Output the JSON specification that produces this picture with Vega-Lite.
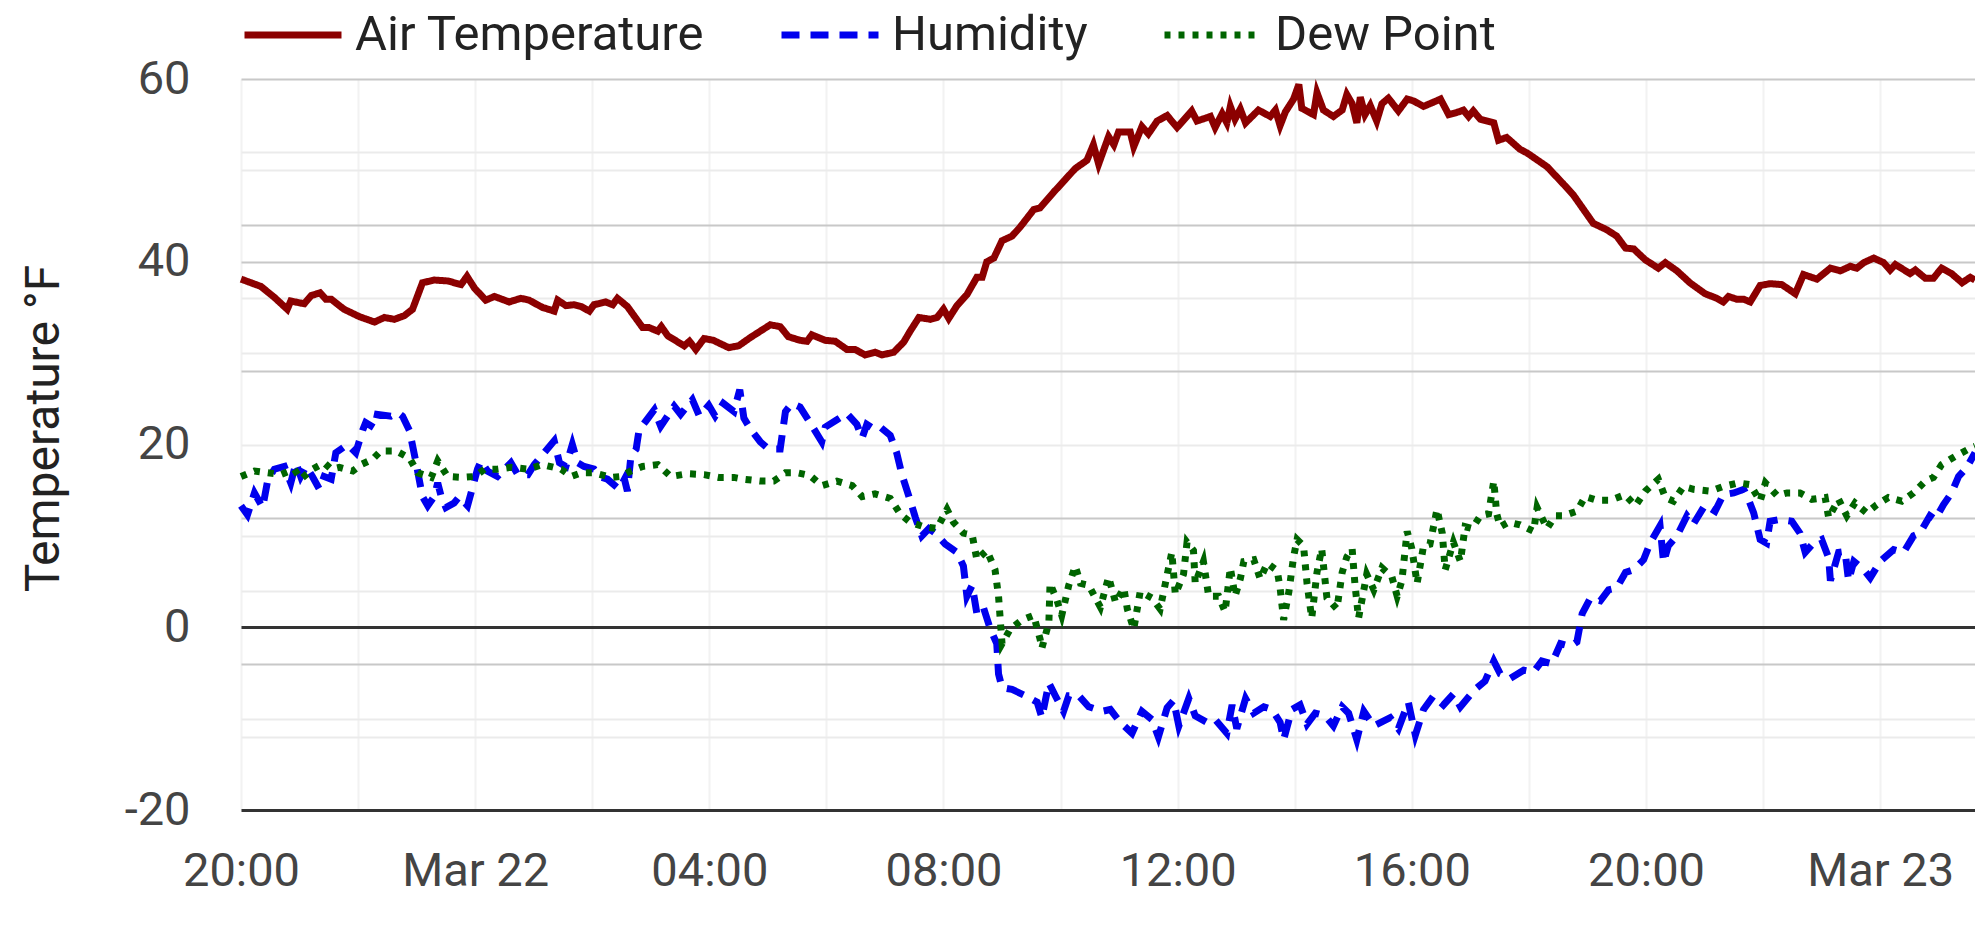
{
  "$schema": "https://vega.github.io/schema/vega-lite/v6.json",
  "width": 1734,
  "height": 731,
  "autosize": {"type": "none"},
  "padding": {"left": 241, "top": 79, "right": 0, "bottom": 126},
  "background": "white",
  "config": {
    "view": {"stroke": null},
    "font": "Roboto"
  },
  "data": {
    "values": [
      {"elapsed": 0, "series": "Air Temperature", "value": 38.1},
      {"elapsed": 0.34, "series": "Air Temperature", "value": 37.3},
      {"elapsed": 0.57, "series": "Air Temperature", "value": 36.1},
      {"elapsed": 0.79, "series": "Air Temperature", "value": 34.8},
      {"elapsed": 0.85, "series": "Air Temperature", "value": 35.7},
      {"elapsed": 1.08, "series": "Air Temperature", "value": 35.4},
      {"elapsed": 1.2, "series": "Air Temperature", "value": 36.3},
      {"elapsed": 1.35, "series": "Air Temperature", "value": 36.6},
      {"elapsed": 1.45, "series": "Air Temperature", "value": 35.9},
      {"elapsed": 1.54, "series": "Air Temperature", "value": 35.9},
      {"elapsed": 1.76, "series": "Air Temperature", "value": 34.8},
      {"elapsed": 2.02, "series": "Air Temperature", "value": 34.0},
      {"elapsed": 2.28, "series": "Air Temperature", "value": 33.4},
      {"elapsed": 2.45, "series": "Air Temperature", "value": 33.9},
      {"elapsed": 2.62, "series": "Air Temperature", "value": 33.7},
      {"elapsed": 2.79, "series": "Air Temperature", "value": 34.1},
      {"elapsed": 2.93, "series": "Air Temperature", "value": 34.8},
      {"elapsed": 3.1, "series": "Air Temperature", "value": 37.7},
      {"elapsed": 3.3, "series": "Air Temperature", "value": 38.0},
      {"elapsed": 3.53, "series": "Air Temperature", "value": 37.9},
      {"elapsed": 3.76, "series": "Air Temperature", "value": 37.5},
      {"elapsed": 3.86, "series": "Air Temperature", "value": 38.4},
      {"elapsed": 3.99, "series": "Air Temperature", "value": 37.1},
      {"elapsed": 4.18, "series": "Air Temperature", "value": 35.8},
      {"elapsed": 4.33, "series": "Air Temperature", "value": 36.2},
      {"elapsed": 4.58, "series": "Air Temperature", "value": 35.6},
      {"elapsed": 4.78, "series": "Air Temperature", "value": 36.0},
      {"elapsed": 4.92, "series": "Air Temperature", "value": 35.8},
      {"elapsed": 5.15, "series": "Air Temperature", "value": 35.0},
      {"elapsed": 5.35, "series": "Air Temperature", "value": 34.6},
      {"elapsed": 5.41, "series": "Air Temperature", "value": 35.8},
      {"elapsed": 5.55, "series": "Air Temperature", "value": 35.2},
      {"elapsed": 5.69, "series": "Air Temperature", "value": 35.3},
      {"elapsed": 5.81, "series": "Air Temperature", "value": 35.1},
      {"elapsed": 5.95, "series": "Air Temperature", "value": 34.6},
      {"elapsed": 6.03, "series": "Air Temperature", "value": 35.3},
      {"elapsed": 6.23, "series": "Air Temperature", "value": 35.6},
      {"elapsed": 6.35, "series": "Air Temperature", "value": 35.3},
      {"elapsed": 6.43, "series": "Air Temperature", "value": 36.0},
      {"elapsed": 6.6, "series": "Air Temperature", "value": 35.1},
      {"elapsed": 6.86, "series": "Air Temperature", "value": 32.8},
      {"elapsed": 6.97, "series": "Air Temperature", "value": 32.8},
      {"elapsed": 7.12, "series": "Air Temperature", "value": 32.4},
      {"elapsed": 7.18, "series": "Air Temperature", "value": 32.9},
      {"elapsed": 7.29, "series": "Air Temperature", "value": 31.9},
      {"elapsed": 7.57, "series": "Air Temperature", "value": 30.8},
      {"elapsed": 7.66, "series": "Air Temperature", "value": 31.3},
      {"elapsed": 7.77, "series": "Air Temperature", "value": 30.4},
      {"elapsed": 7.91, "series": "Air Temperature", "value": 31.6},
      {"elapsed": 8.07, "series": "Air Temperature", "value": 31.4},
      {"elapsed": 8.33, "series": "Air Temperature", "value": 30.6},
      {"elapsed": 8.5, "series": "Air Temperature", "value": 30.8},
      {"elapsed": 8.7, "series": "Air Temperature", "value": 31.7},
      {"elapsed": 9.04, "series": "Air Temperature", "value": 33.1},
      {"elapsed": 9.21, "series": "Air Temperature", "value": 32.9},
      {"elapsed": 9.35, "series": "Air Temperature", "value": 31.8},
      {"elapsed": 9.55, "series": "Air Temperature", "value": 31.4},
      {"elapsed": 9.67, "series": "Air Temperature", "value": 31.3},
      {"elapsed": 9.75, "series": "Air Temperature", "value": 32.0},
      {"elapsed": 9.98, "series": "Air Temperature", "value": 31.4},
      {"elapsed": 10.15, "series": "Air Temperature", "value": 31.3},
      {"elapsed": 10.35, "series": "Air Temperature", "value": 30.4},
      {"elapsed": 10.49, "series": "Air Temperature", "value": 30.4},
      {"elapsed": 10.66, "series": "Air Temperature", "value": 29.8},
      {"elapsed": 10.83, "series": "Air Temperature", "value": 30.1},
      {"elapsed": 10.95, "series": "Air Temperature", "value": 29.8},
      {"elapsed": 11.15, "series": "Air Temperature", "value": 30.1},
      {"elapsed": 11.32, "series": "Air Temperature", "value": 31.2},
      {"elapsed": 11.43, "series": "Air Temperature", "value": 32.4},
      {"elapsed": 11.58, "series": "Air Temperature", "value": 33.9},
      {"elapsed": 11.78, "series": "Air Temperature", "value": 33.7},
      {"elapsed": 11.89, "series": "Air Temperature", "value": 33.9},
      {"elapsed": 12.0, "series": "Air Temperature", "value": 34.8},
      {"elapsed": 12.09, "series": "Air Temperature", "value": 33.8},
      {"elapsed": 12.23, "series": "Air Temperature", "value": 35.2},
      {"elapsed": 12.4, "series": "Air Temperature", "value": 36.4},
      {"elapsed": 12.57, "series": "Air Temperature", "value": 38.3},
      {"elapsed": 12.66, "series": "Air Temperature", "value": 38.3},
      {"elapsed": 12.74, "series": "Air Temperature", "value": 40.0},
      {"elapsed": 12.86, "series": "Air Temperature", "value": 40.4},
      {"elapsed": 13.0, "series": "Air Temperature", "value": 42.3},
      {"elapsed": 13.17, "series": "Air Temperature", "value": 42.8},
      {"elapsed": 13.31, "series": "Air Temperature", "value": 43.8},
      {"elapsed": 13.54, "series": "Air Temperature", "value": 45.7},
      {"elapsed": 13.65, "series": "Air Temperature", "value": 45.9},
      {"elapsed": 13.88, "series": "Air Temperature", "value": 47.6},
      {"elapsed": 14.08, "series": "Air Temperature", "value": 49.0},
      {"elapsed": 14.25, "series": "Air Temperature", "value": 50.2},
      {"elapsed": 14.45, "series": "Air Temperature", "value": 51.1},
      {"elapsed": 14.56, "series": "Air Temperature", "value": 52.8},
      {"elapsed": 14.65, "series": "Air Temperature", "value": 50.7},
      {"elapsed": 14.82, "series": "Air Temperature", "value": 53.7},
      {"elapsed": 14.91, "series": "Air Temperature", "value": 52.8},
      {"elapsed": 14.99, "series": "Air Temperature", "value": 54.2},
      {"elapsed": 15.19, "series": "Air Temperature", "value": 54.2},
      {"elapsed": 15.25, "series": "Air Temperature", "value": 52.6},
      {"elapsed": 15.39, "series": "Air Temperature", "value": 54.8},
      {"elapsed": 15.5, "series": "Air Temperature", "value": 54.0},
      {"elapsed": 15.65, "series": "Air Temperature", "value": 55.4},
      {"elapsed": 15.82, "series": "Air Temperature", "value": 56.0},
      {"elapsed": 15.99, "series": "Air Temperature", "value": 54.7},
      {"elapsed": 16.24, "series": "Air Temperature", "value": 56.5},
      {"elapsed": 16.33, "series": "Air Temperature", "value": 55.4},
      {"elapsed": 16.56, "series": "Air Temperature", "value": 55.9},
      {"elapsed": 16.64, "series": "Air Temperature", "value": 54.7},
      {"elapsed": 16.76, "series": "Air Temperature", "value": 56.2},
      {"elapsed": 16.84, "series": "Air Temperature", "value": 55.2},
      {"elapsed": 16.9, "series": "Air Temperature", "value": 57.0},
      {"elapsed": 16.98, "series": "Air Temperature", "value": 55.6},
      {"elapsed": 17.07, "series": "Air Temperature", "value": 56.7},
      {"elapsed": 17.16, "series": "Air Temperature", "value": 55.2},
      {"elapsed": 17.38, "series": "Air Temperature", "value": 56.6},
      {"elapsed": 17.58, "series": "Air Temperature", "value": 55.9},
      {"elapsed": 17.67, "series": "Air Temperature", "value": 56.6},
      {"elapsed": 17.75, "series": "Air Temperature", "value": 54.9},
      {"elapsed": 17.84, "series": "Air Temperature", "value": 56.4},
      {"elapsed": 17.98, "series": "Air Temperature", "value": 57.8},
      {"elapsed": 18.07, "series": "Air Temperature", "value": 59.4},
      {"elapsed": 18.12, "series": "Air Temperature", "value": 56.8},
      {"elapsed": 18.32, "series": "Air Temperature", "value": 56.1},
      {"elapsed": 18.38, "series": "Air Temperature", "value": 58.5},
      {"elapsed": 18.49, "series": "Air Temperature", "value": 56.6},
      {"elapsed": 18.66, "series": "Air Temperature", "value": 55.9},
      {"elapsed": 18.81, "series": "Air Temperature", "value": 56.6},
      {"elapsed": 18.89, "series": "Air Temperature", "value": 58.3},
      {"elapsed": 18.98, "series": "Air Temperature", "value": 57.3},
      {"elapsed": 19.06, "series": "Air Temperature", "value": 55.2},
      {"elapsed": 19.12, "series": "Air Temperature", "value": 58.0},
      {"elapsed": 19.2, "series": "Air Temperature", "value": 56.1},
      {"elapsed": 19.29, "series": "Air Temperature", "value": 57.1},
      {"elapsed": 19.4, "series": "Air Temperature", "value": 55.4},
      {"elapsed": 19.49, "series": "Air Temperature", "value": 57.3},
      {"elapsed": 19.6, "series": "Air Temperature", "value": 57.9},
      {"elapsed": 19.77, "series": "Air Temperature", "value": 56.5},
      {"elapsed": 19.92, "series": "Air Temperature", "value": 57.8},
      {"elapsed": 20.03, "series": "Air Temperature", "value": 57.6},
      {"elapsed": 20.2, "series": "Air Temperature", "value": 57.0},
      {"elapsed": 20.49, "series": "Air Temperature", "value": 57.8},
      {"elapsed": 20.63, "series": "Air Temperature", "value": 56.1},
      {"elapsed": 20.8, "series": "Air Temperature", "value": 56.4},
      {"elapsed": 20.88, "series": "Air Temperature", "value": 56.6},
      {"elapsed": 20.97, "series": "Air Temperature", "value": 55.9},
      {"elapsed": 21.05, "series": "Air Temperature", "value": 56.5},
      {"elapsed": 21.17, "series": "Air Temperature", "value": 55.6},
      {"elapsed": 21.4, "series": "Air Temperature", "value": 55.2},
      {"elapsed": 21.48, "series": "Air Temperature", "value": 53.3},
      {"elapsed": 21.62, "series": "Air Temperature", "value": 53.6},
      {"elapsed": 21.85, "series": "Air Temperature", "value": 52.3},
      {"elapsed": 21.97, "series": "Air Temperature", "value": 51.9},
      {"elapsed": 22.31, "series": "Air Temperature", "value": 50.4},
      {"elapsed": 22.59, "series": "Air Temperature", "value": 48.5},
      {"elapsed": 22.76, "series": "Air Temperature", "value": 47.3},
      {"elapsed": 22.99, "series": "Air Temperature", "value": 45.2},
      {"elapsed": 23.1, "series": "Air Temperature", "value": 44.2},
      {"elapsed": 23.33, "series": "Air Temperature", "value": 43.5},
      {"elapsed": 23.5, "series": "Air Temperature", "value": 42.8},
      {"elapsed": 23.65, "series": "Air Temperature", "value": 41.5},
      {"elapsed": 23.79, "series": "Air Temperature", "value": 41.4},
      {"elapsed": 23.99, "series": "Air Temperature", "value": 40.2},
      {"elapsed": 24.21, "series": "Air Temperature", "value": 39.3},
      {"elapsed": 24.33, "series": "Air Temperature", "value": 39.9},
      {"elapsed": 24.53, "series": "Air Temperature", "value": 39.0},
      {"elapsed": 24.75, "series": "Air Temperature", "value": 37.7},
      {"elapsed": 25.01, "series": "Air Temperature", "value": 36.5},
      {"elapsed": 25.21, "series": "Air Temperature", "value": 36.0},
      {"elapsed": 25.32, "series": "Air Temperature", "value": 35.6},
      {"elapsed": 25.41, "series": "Air Temperature", "value": 36.2},
      {"elapsed": 25.55, "series": "Air Temperature", "value": 35.9},
      {"elapsed": 25.67, "series": "Air Temperature", "value": 35.9},
      {"elapsed": 25.78, "series": "Air Temperature", "value": 35.6},
      {"elapsed": 25.95, "series": "Air Temperature", "value": 37.4},
      {"elapsed": 26.12, "series": "Air Temperature", "value": 37.6},
      {"elapsed": 26.32, "series": "Air Temperature", "value": 37.5},
      {"elapsed": 26.55, "series": "Air Temperature", "value": 36.5},
      {"elapsed": 26.69, "series": "Air Temperature", "value": 38.6},
      {"elapsed": 26.92, "series": "Air Temperature", "value": 38.1},
      {"elapsed": 27.15, "series": "Air Temperature", "value": 39.3},
      {"elapsed": 27.32, "series": "Air Temperature", "value": 39.0},
      {"elapsed": 27.49, "series": "Air Temperature", "value": 39.5},
      {"elapsed": 27.6, "series": "Air Temperature", "value": 39.3},
      {"elapsed": 27.72, "series": "Air Temperature", "value": 39.9},
      {"elapsed": 27.89, "series": "Air Temperature", "value": 40.4},
      {"elapsed": 28.06, "series": "Air Temperature", "value": 39.9},
      {"elapsed": 28.17, "series": "Air Temperature", "value": 39.1},
      {"elapsed": 28.26, "series": "Air Temperature", "value": 39.7},
      {"elapsed": 28.51, "series": "Air Temperature", "value": 38.7},
      {"elapsed": 28.6, "series": "Air Temperature", "value": 39.1},
      {"elapsed": 28.77, "series": "Air Temperature", "value": 38.2},
      {"elapsed": 28.91, "series": "Air Temperature", "value": 38.2},
      {"elapsed": 29.05, "series": "Air Temperature", "value": 39.3},
      {"elapsed": 29.22, "series": "Air Temperature", "value": 38.7},
      {"elapsed": 29.4, "series": "Air Temperature", "value": 37.7},
      {"elapsed": 29.54, "series": "Air Temperature", "value": 38.3},
      {"elapsed": 29.62, "series": "Air Temperature", "value": 38.0},

      {"elapsed": 0, "series": "Humidity", "value": 13.3},
      {"elapsed": 0.11, "series": "Humidity", "value": 12.3},
      {"elapsed": 0.23, "series": "Humidity", "value": 14.7},
      {"elapsed": 0.37, "series": "Humidity", "value": 13.1},
      {"elapsed": 0.46, "series": "Humidity", "value": 16.2},
      {"elapsed": 0.57, "series": "Humidity", "value": 17.3},
      {"elapsed": 0.74, "series": "Humidity", "value": 17.6},
      {"elapsed": 0.85, "series": "Humidity", "value": 15.8},
      {"elapsed": 0.94, "series": "Humidity", "value": 18.0},
      {"elapsed": 1.02, "series": "Humidity", "value": 16.5},
      {"elapsed": 1.11, "series": "Humidity", "value": 17.6},
      {"elapsed": 1.22, "series": "Humidity", "value": 16.5},
      {"elapsed": 1.34, "series": "Humidity", "value": 15.1},
      {"elapsed": 1.42, "series": "Humidity", "value": 16.5},
      {"elapsed": 1.54, "series": "Humidity", "value": 16.2},
      {"elapsed": 1.62, "series": "Humidity", "value": 19.1},
      {"elapsed": 1.82, "series": "Humidity", "value": 20.0},
      {"elapsed": 1.96, "series": "Humidity", "value": 19.1},
      {"elapsed": 2.08, "series": "Humidity", "value": 21.6},
      {"elapsed": 2.13, "series": "Humidity", "value": 22.4},
      {"elapsed": 2.28, "series": "Humidity", "value": 21.8},
      {"elapsed": 2.33, "series": "Humidity", "value": 23.3},
      {"elapsed": 2.56, "series": "Humidity", "value": 23.1},
      {"elapsed": 2.68, "series": "Humidity", "value": 23.5},
      {"elapsed": 2.76, "series": "Humidity", "value": 23.1},
      {"elapsed": 2.88, "series": "Humidity", "value": 21.5},
      {"elapsed": 2.99, "series": "Humidity", "value": 18.0},
      {"elapsed": 3.1, "series": "Humidity", "value": 14.3},
      {"elapsed": 3.19, "series": "Humidity", "value": 13.3},
      {"elapsed": 3.3, "series": "Humidity", "value": 14.3},
      {"elapsed": 3.36, "series": "Humidity", "value": 15.8},
      {"elapsed": 3.42, "series": "Humidity", "value": 14.3},
      {"elapsed": 3.5, "series": "Humidity", "value": 13.1},
      {"elapsed": 3.64, "series": "Humidity", "value": 13.6},
      {"elapsed": 3.73, "series": "Humidity", "value": 14.3},
      {"elapsed": 3.87, "series": "Humidity", "value": 13.3},
      {"elapsed": 3.93, "series": "Humidity", "value": 14.7},
      {"elapsed": 4.04, "series": "Humidity", "value": 17.3},
      {"elapsed": 4.1, "series": "Humidity", "value": 18.2},
      {"elapsed": 4.21, "series": "Humidity", "value": 17.1},
      {"elapsed": 4.38, "series": "Humidity", "value": 16.5},
      {"elapsed": 4.5, "series": "Humidity", "value": 17.3},
      {"elapsed": 4.61, "series": "Humidity", "value": 18.0},
      {"elapsed": 4.73, "series": "Humidity", "value": 16.7},
      {"elapsed": 4.9, "series": "Humidity", "value": 16.7},
      {"elapsed": 5.01, "series": "Humidity", "value": 17.8},
      {"elapsed": 5.18, "series": "Humidity", "value": 19.1},
      {"elapsed": 5.35, "series": "Humidity", "value": 20.4},
      {"elapsed": 5.44, "series": "Humidity", "value": 18.0},
      {"elapsed": 5.55, "series": "Humidity", "value": 17.6},
      {"elapsed": 5.66, "series": "Humidity", "value": 20.0},
      {"elapsed": 5.75, "series": "Humidity", "value": 18.0},
      {"elapsed": 5.86, "series": "Humidity", "value": 17.6},
      {"elapsed": 6.03, "series": "Humidity", "value": 17.3},
      {"elapsed": 6.12, "series": "Humidity", "value": 16.5},
      {"elapsed": 6.26, "series": "Humidity", "value": 16.2},
      {"elapsed": 6.46, "series": "Humidity", "value": 15.1},
      {"elapsed": 6.55, "series": "Humidity", "value": 16.2},
      {"elapsed": 6.6, "series": "Humidity", "value": 14.9},
      {"elapsed": 6.66, "series": "Humidity", "value": 18.7},
      {"elapsed": 6.75, "series": "Humidity", "value": 19.5},
      {"elapsed": 6.8, "series": "Humidity", "value": 21.6},
      {"elapsed": 6.92, "series": "Humidity", "value": 22.6},
      {"elapsed": 7.06, "series": "Humidity", "value": 23.8},
      {"elapsed": 7.17, "series": "Humidity", "value": 22.0},
      {"elapsed": 7.4, "series": "Humidity", "value": 24.2},
      {"elapsed": 7.51, "series": "Humidity", "value": 23.3},
      {"elapsed": 7.71, "series": "Humidity", "value": 24.9},
      {"elapsed": 7.83, "series": "Humidity", "value": 23.1},
      {"elapsed": 7.99, "series": "Humidity", "value": 24.3},
      {"elapsed": 8.1, "series": "Humidity", "value": 23.1},
      {"elapsed": 8.24, "series": "Humidity", "value": 24.5},
      {"elapsed": 8.42, "series": "Humidity", "value": 23.6},
      {"elapsed": 8.52, "series": "Humidity", "value": 26.0},
      {"elapsed": 8.59, "series": "Humidity", "value": 22.9},
      {"elapsed": 8.7, "series": "Humidity", "value": 21.7},
      {"elapsed": 8.87, "series": "Humidity", "value": 20.3},
      {"elapsed": 9.01, "series": "Humidity", "value": 19.5},
      {"elapsed": 9.21, "series": "Humidity", "value": 19.5},
      {"elapsed": 9.3, "series": "Humidity", "value": 23.6},
      {"elapsed": 9.41, "series": "Humidity", "value": 24.5},
      {"elapsed": 9.55, "series": "Humidity", "value": 24.1},
      {"elapsed": 9.72, "series": "Humidity", "value": 22.4},
      {"elapsed": 9.92, "series": "Humidity", "value": 20.3},
      {"elapsed": 9.98, "series": "Humidity", "value": 21.9},
      {"elapsed": 10.18, "series": "Humidity", "value": 22.7},
      {"elapsed": 10.35, "series": "Humidity", "value": 23.4},
      {"elapsed": 10.52, "series": "Humidity", "value": 22.2},
      {"elapsed": 10.61, "series": "Humidity", "value": 20.7},
      {"elapsed": 10.69, "series": "Humidity", "value": 22.2},
      {"elapsed": 10.81, "series": "Humidity", "value": 21.7},
      {"elapsed": 10.92, "series": "Humidity", "value": 21.9},
      {"elapsed": 11.09, "series": "Humidity", "value": 21.0},
      {"elapsed": 11.2, "series": "Humidity", "value": 19.1},
      {"elapsed": 11.29, "series": "Humidity", "value": 16.7},
      {"elapsed": 11.41, "series": "Humidity", "value": 14.3},
      {"elapsed": 11.52, "series": "Humidity", "value": 12.0},
      {"elapsed": 11.63, "series": "Humidity", "value": 10.0},
      {"elapsed": 11.75, "series": "Humidity", "value": 10.8},
      {"elapsed": 11.86, "series": "Humidity", "value": 10.3},
      {"elapsed": 12.03, "series": "Humidity", "value": 9.1},
      {"elapsed": 12.14, "series": "Humidity", "value": 8.6},
      {"elapsed": 12.23, "series": "Humidity", "value": 8.2},
      {"elapsed": 12.34, "series": "Humidity", "value": 6.7},
      {"elapsed": 12.4, "series": "Humidity", "value": 3.4},
      {"elapsed": 12.49, "series": "Humidity", "value": 4.6},
      {"elapsed": 12.57, "series": "Humidity", "value": 1.5},
      {"elapsed": 12.68, "series": "Humidity", "value": 2.2},
      {"elapsed": 12.8, "series": "Humidity", "value": -0.2},
      {"elapsed": 12.91, "series": "Humidity", "value": -1.8},
      {"elapsed": 12.94, "series": "Humidity", "value": -5.1},
      {"elapsed": 13.0, "series": "Humidity", "value": -6.6},
      {"elapsed": 13.17, "series": "Humidity", "value": -6.8},
      {"elapsed": 13.4, "series": "Humidity", "value": -7.5},
      {"elapsed": 13.6, "series": "Humidity", "value": -8.2},
      {"elapsed": 13.68, "series": "Humidity", "value": -9.9},
      {"elapsed": 13.8, "series": "Humidity", "value": -6.1},
      {"elapsed": 13.91, "series": "Humidity", "value": -7.5},
      {"elapsed": 14.05, "series": "Humidity", "value": -9.2},
      {"elapsed": 14.14, "series": "Humidity", "value": -7.5},
      {"elapsed": 14.31, "series": "Humidity", "value": -7.5},
      {"elapsed": 14.48, "series": "Humidity", "value": -8.7},
      {"elapsed": 14.71, "series": "Humidity", "value": -9.2},
      {"elapsed": 14.85, "series": "Humidity", "value": -9.0},
      {"elapsed": 15.02, "series": "Humidity", "value": -10.4},
      {"elapsed": 15.22, "series": "Humidity", "value": -11.6},
      {"elapsed": 15.39, "series": "Humidity", "value": -9.2},
      {"elapsed": 15.56, "series": "Humidity", "value": -10.1},
      {"elapsed": 15.67, "series": "Humidity", "value": -12.0},
      {"elapsed": 15.82, "series": "Humidity", "value": -8.8},
      {"elapsed": 15.93, "series": "Humidity", "value": -8.0},
      {"elapsed": 16.02, "series": "Humidity", "value": -10.8},
      {"elapsed": 16.19, "series": "Humidity", "value": -7.8},
      {"elapsed": 16.3, "series": "Humidity", "value": -9.7},
      {"elapsed": 16.5, "series": "Humidity", "value": -10.4},
      {"elapsed": 16.64, "series": "Humidity", "value": -10.1},
      {"elapsed": 16.84, "series": "Humidity", "value": -11.6},
      {"elapsed": 16.93, "series": "Humidity", "value": -8.5},
      {"elapsed": 17.01, "series": "Humidity", "value": -11.1},
      {"elapsed": 17.16, "series": "Humidity", "value": -7.8},
      {"elapsed": 17.3, "series": "Humidity", "value": -9.4},
      {"elapsed": 17.47, "series": "Humidity", "value": -8.7},
      {"elapsed": 17.61, "series": "Humidity", "value": -9.0},
      {"elapsed": 17.75, "series": "Humidity", "value": -10.4},
      {"elapsed": 17.81, "series": "Humidity", "value": -12.3},
      {"elapsed": 17.95, "series": "Humidity", "value": -9.0},
      {"elapsed": 18.09, "series": "Humidity", "value": -8.5},
      {"elapsed": 18.21, "series": "Humidity", "value": -10.6},
      {"elapsed": 18.35, "series": "Humidity", "value": -9.4},
      {"elapsed": 18.52, "series": "Humidity", "value": -9.7},
      {"elapsed": 18.66, "series": "Humidity", "value": -10.8},
      {"elapsed": 18.81, "series": "Humidity", "value": -8.7},
      {"elapsed": 18.92, "series": "Humidity", "value": -9.4},
      {"elapsed": 19.06, "series": "Humidity", "value": -12.3},
      {"elapsed": 19.18, "series": "Humidity", "value": -9.2},
      {"elapsed": 19.35, "series": "Humidity", "value": -10.8},
      {"elapsed": 19.63, "series": "Humidity", "value": -9.9},
      {"elapsed": 19.77, "series": "Humidity", "value": -11.1},
      {"elapsed": 19.94, "series": "Humidity", "value": -8.2},
      {"elapsed": 20.06, "series": "Humidity", "value": -11.8},
      {"elapsed": 20.2, "series": "Humidity", "value": -9.0},
      {"elapsed": 20.37, "series": "Humidity", "value": -7.5},
      {"elapsed": 20.54, "series": "Humidity", "value": -8.5},
      {"elapsed": 20.71, "series": "Humidity", "value": -7.3},
      {"elapsed": 20.83, "series": "Humidity", "value": -8.7},
      {"elapsed": 21.08, "series": "Humidity", "value": -6.8},
      {"elapsed": 21.25, "series": "Humidity", "value": -5.9},
      {"elapsed": 21.4, "series": "Humidity", "value": -3.7},
      {"elapsed": 21.51, "series": "Humidity", "value": -5.1},
      {"elapsed": 21.68, "series": "Humidity", "value": -5.6},
      {"elapsed": 21.91, "series": "Humidity", "value": -4.7},
      {"elapsed": 22.08, "series": "Humidity", "value": -4.9},
      {"elapsed": 22.22, "series": "Humidity", "value": -3.7},
      {"elapsed": 22.39, "series": "Humidity", "value": -4.0},
      {"elapsed": 22.54, "series": "Humidity", "value": -1.8},
      {"elapsed": 22.71, "series": "Humidity", "value": -2.1},
      {"elapsed": 22.82, "series": "Humidity", "value": -1.6},
      {"elapsed": 22.91, "series": "Humidity", "value": 1.5},
      {"elapsed": 23.05, "series": "Humidity", "value": 3.2},
      {"elapsed": 23.22, "series": "Humidity", "value": 2.9},
      {"elapsed": 23.36, "series": "Humidity", "value": 4.1},
      {"elapsed": 23.5, "series": "Humidity", "value": 4.3},
      {"elapsed": 23.65, "series": "Humidity", "value": 6.0},
      {"elapsed": 23.79, "series": "Humidity", "value": 6.3},
      {"elapsed": 23.96, "series": "Humidity", "value": 7.4},
      {"elapsed": 24.07, "series": "Humidity", "value": 9.2},
      {"elapsed": 24.24, "series": "Humidity", "value": 11.1},
      {"elapsed": 24.3, "series": "Humidity", "value": 7.1},
      {"elapsed": 24.38, "series": "Humidity", "value": 8.9},
      {"elapsed": 24.53, "series": "Humidity", "value": 10.0},
      {"elapsed": 24.7, "series": "Humidity", "value": 12.2},
      {"elapsed": 24.81, "series": "Humidity", "value": 11.3},
      {"elapsed": 25.01, "series": "Humidity", "value": 13.4},
      {"elapsed": 25.18, "series": "Humidity", "value": 12.7},
      {"elapsed": 25.32, "series": "Humidity", "value": 14.5},
      {"elapsed": 25.5, "series": "Humidity", "value": 14.7},
      {"elapsed": 25.67, "series": "Humidity", "value": 15.1},
      {"elapsed": 25.75, "series": "Humidity", "value": 14.0},
      {"elapsed": 25.84, "series": "Humidity", "value": 12.5},
      {"elapsed": 25.95, "series": "Humidity", "value": 9.6},
      {"elapsed": 26.06, "series": "Humidity", "value": 9.2},
      {"elapsed": 26.12, "series": "Humidity", "value": 11.6},
      {"elapsed": 26.29, "series": "Humidity", "value": 11.8},
      {"elapsed": 26.49, "series": "Humidity", "value": 11.6},
      {"elapsed": 26.63, "series": "Humidity", "value": 10.3},
      {"elapsed": 26.72, "series": "Humidity", "value": 8.2},
      {"elapsed": 26.86, "series": "Humidity", "value": 9.2},
      {"elapsed": 27.0, "series": "Humidity", "value": 9.6},
      {"elapsed": 27.12, "series": "Humidity", "value": 7.6},
      {"elapsed": 27.15, "series": "Humidity", "value": 5.1},
      {"elapsed": 27.29, "series": "Humidity", "value": 8.2},
      {"elapsed": 27.4, "series": "Humidity", "value": 8.3},
      {"elapsed": 27.46, "series": "Humidity", "value": 5.1},
      {"elapsed": 27.55, "series": "Humidity", "value": 7.2},
      {"elapsed": 27.72, "series": "Humidity", "value": 6.3},
      {"elapsed": 27.83, "series": "Humidity", "value": 5.4},
      {"elapsed": 28.0, "series": "Humidity", "value": 7.2},
      {"elapsed": 28.23, "series": "Humidity", "value": 8.5},
      {"elapsed": 28.4, "series": "Humidity", "value": 8.2},
      {"elapsed": 28.57, "series": "Humidity", "value": 10.0},
      {"elapsed": 28.68, "series": "Humidity", "value": 10.3},
      {"elapsed": 28.85, "series": "Humidity", "value": 12.2},
      {"elapsed": 28.94, "series": "Humidity", "value": 11.8},
      {"elapsed": 29.08, "series": "Humidity", "value": 13.4},
      {"elapsed": 29.22, "series": "Humidity", "value": 14.7},
      {"elapsed": 29.34, "series": "Humidity", "value": 16.5},
      {"elapsed": 29.48, "series": "Humidity", "value": 17.5},
      {"elapsed": 29.62, "series": "Humidity", "value": 19.1},

      {"elapsed": 0, "series": "Dew Point", "value": 16.5},
      {"elapsed": 0.23, "series": "Dew Point", "value": 17.1},
      {"elapsed": 0.46, "series": "Dew Point", "value": 16.9},
      {"elapsed": 0.68, "series": "Dew Point", "value": 16.7},
      {"elapsed": 0.91, "series": "Dew Point", "value": 17.3},
      {"elapsed": 1.02, "series": "Dew Point", "value": 16.2},
      {"elapsed": 1.22, "series": "Dew Point", "value": 17.3},
      {"elapsed": 1.42, "series": "Dew Point", "value": 18.0},
      {"elapsed": 1.54, "series": "Dew Point", "value": 17.3},
      {"elapsed": 1.68, "series": "Dew Point", "value": 17.5},
      {"elapsed": 1.91, "series": "Dew Point", "value": 17.1},
      {"elapsed": 2.05, "series": "Dew Point", "value": 17.8},
      {"elapsed": 2.25, "series": "Dew Point", "value": 18.4},
      {"elapsed": 2.39, "series": "Dew Point", "value": 19.3},
      {"elapsed": 2.65, "series": "Dew Point", "value": 19.3},
      {"elapsed": 2.88, "series": "Dew Point", "value": 18.5},
      {"elapsed": 3.02, "series": "Dew Point", "value": 16.9},
      {"elapsed": 3.25, "series": "Dew Point", "value": 16.4},
      {"elapsed": 3.36, "series": "Dew Point", "value": 18.2},
      {"elapsed": 3.53, "series": "Dew Point", "value": 16.5},
      {"elapsed": 3.79, "series": "Dew Point", "value": 16.4},
      {"elapsed": 3.99, "series": "Dew Point", "value": 16.5},
      {"elapsed": 4.16, "series": "Dew Point", "value": 17.3},
      {"elapsed": 4.38, "series": "Dew Point", "value": 17.3},
      {"elapsed": 4.61, "series": "Dew Point", "value": 17.5},
      {"elapsed": 4.9, "series": "Dew Point", "value": 17.3},
      {"elapsed": 5.15, "series": "Dew Point", "value": 17.8},
      {"elapsed": 5.47, "series": "Dew Point", "value": 17.3},
      {"elapsed": 5.64, "series": "Dew Point", "value": 16.5},
      {"elapsed": 5.81, "series": "Dew Point", "value": 16.9},
      {"elapsed": 6.03, "series": "Dew Point", "value": 16.9},
      {"elapsed": 6.32, "series": "Dew Point", "value": 16.4},
      {"elapsed": 6.49, "series": "Dew Point", "value": 16.5},
      {"elapsed": 6.66, "series": "Dew Point", "value": 17.1},
      {"elapsed": 6.86, "series": "Dew Point", "value": 17.6},
      {"elapsed": 7.12, "series": "Dew Point", "value": 17.8},
      {"elapsed": 7.34, "series": "Dew Point", "value": 16.5},
      {"elapsed": 7.63, "series": "Dew Point", "value": 16.8},
      {"elapsed": 7.91, "series": "Dew Point", "value": 16.7},
      {"elapsed": 8.16, "series": "Dew Point", "value": 16.4},
      {"elapsed": 8.42, "series": "Dew Point", "value": 16.4},
      {"elapsed": 8.59, "series": "Dew Point", "value": 16.2},
      {"elapsed": 8.87, "series": "Dew Point", "value": 16.0},
      {"elapsed": 9.1, "series": "Dew Point", "value": 16.0},
      {"elapsed": 9.3, "series": "Dew Point", "value": 16.9},
      {"elapsed": 9.5, "series": "Dew Point", "value": 16.9},
      {"elapsed": 9.72, "series": "Dew Point", "value": 16.6},
      {"elapsed": 9.92, "series": "Dew Point", "value": 15.5},
      {"elapsed": 10.18, "series": "Dew Point", "value": 16.0},
      {"elapsed": 10.44, "series": "Dew Point", "value": 15.5},
      {"elapsed": 10.61, "series": "Dew Point", "value": 14.3},
      {"elapsed": 10.83, "series": "Dew Point", "value": 14.6},
      {"elapsed": 11.09, "series": "Dew Point", "value": 14.1},
      {"elapsed": 11.26, "series": "Dew Point", "value": 12.4},
      {"elapsed": 11.43, "series": "Dew Point", "value": 11.5},
      {"elapsed": 11.66, "series": "Dew Point", "value": 11.0},
      {"elapsed": 11.89, "series": "Dew Point", "value": 10.8},
      {"elapsed": 12.06, "series": "Dew Point", "value": 12.9},
      {"elapsed": 12.17, "series": "Dew Point", "value": 11.5},
      {"elapsed": 12.34, "series": "Dew Point", "value": 10.3},
      {"elapsed": 12.49, "series": "Dew Point", "value": 10.1},
      {"elapsed": 12.57, "series": "Dew Point", "value": 7.4},
      {"elapsed": 12.74, "series": "Dew Point", "value": 8.4},
      {"elapsed": 12.88, "series": "Dew Point", "value": 6.3},
      {"elapsed": 12.94, "series": "Dew Point", "value": 3.4},
      {"elapsed": 12.97, "series": "Dew Point", "value": 0.8},
      {"elapsed": 13.0, "series": "Dew Point", "value": -1.8},
      {"elapsed": 13.14, "series": "Dew Point", "value": -0.2},
      {"elapsed": 13.34, "series": "Dew Point", "value": 0.8},
      {"elapsed": 13.54, "series": "Dew Point", "value": 1.3},
      {"elapsed": 13.65, "series": "Dew Point", "value": -1.3},
      {"elapsed": 13.68, "series": "Dew Point", "value": -2.3},
      {"elapsed": 13.8, "series": "Dew Point", "value": 0.5},
      {"elapsed": 13.82, "series": "Dew Point", "value": 4.8},
      {"elapsed": 13.94, "series": "Dew Point", "value": 2.9},
      {"elapsed": 14.02, "series": "Dew Point", "value": 1.3},
      {"elapsed": 14.14, "series": "Dew Point", "value": 4.6},
      {"elapsed": 14.25, "series": "Dew Point", "value": 6.7},
      {"elapsed": 14.34, "series": "Dew Point", "value": 4.8},
      {"elapsed": 14.48, "series": "Dew Point", "value": 4.6},
      {"elapsed": 14.68, "series": "Dew Point", "value": 2.2},
      {"elapsed": 14.82, "series": "Dew Point", "value": 5.5},
      {"elapsed": 14.94, "series": "Dew Point", "value": 2.7},
      {"elapsed": 15.08, "series": "Dew Point", "value": 4.3},
      {"elapsed": 15.14, "series": "Dew Point", "value": 2.0},
      {"elapsed": 15.25, "series": "Dew Point", "value": -0.2},
      {"elapsed": 15.36, "series": "Dew Point", "value": 3.9},
      {"elapsed": 15.56, "series": "Dew Point", "value": 3.2},
      {"elapsed": 15.7, "series": "Dew Point", "value": 2.0},
      {"elapsed": 15.79, "series": "Dew Point", "value": 4.8},
      {"elapsed": 15.9, "series": "Dew Point", "value": 8.2},
      {"elapsed": 15.96, "series": "Dew Point", "value": 3.6},
      {"elapsed": 16.1, "series": "Dew Point", "value": 5.8},
      {"elapsed": 16.16, "series": "Dew Point", "value": 9.3},
      {"elapsed": 16.27, "series": "Dew Point", "value": 8.4},
      {"elapsed": 16.3, "series": "Dew Point", "value": 4.8},
      {"elapsed": 16.44, "series": "Dew Point", "value": 7.2},
      {"elapsed": 16.53, "series": "Dew Point", "value": 3.4},
      {"elapsed": 16.7, "series": "Dew Point", "value": 3.4},
      {"elapsed": 16.81, "series": "Dew Point", "value": 1.7},
      {"elapsed": 16.9, "series": "Dew Point", "value": 6.5},
      {"elapsed": 16.98, "series": "Dew Point", "value": 3.4},
      {"elapsed": 17.07, "series": "Dew Point", "value": 5.3},
      {"elapsed": 17.13, "series": "Dew Point", "value": 7.2},
      {"elapsed": 17.3, "series": "Dew Point", "value": 7.4},
      {"elapsed": 17.41, "series": "Dew Point", "value": 5.3},
      {"elapsed": 17.53, "series": "Dew Point", "value": 7.0},
      {"elapsed": 17.7, "series": "Dew Point", "value": 6.2},
      {"elapsed": 17.75, "series": "Dew Point", "value": 4.3},
      {"elapsed": 17.81, "series": "Dew Point", "value": 0.8},
      {"elapsed": 17.9, "series": "Dew Point", "value": 3.9},
      {"elapsed": 17.98, "series": "Dew Point", "value": 7.7},
      {"elapsed": 18.04, "series": "Dew Point", "value": 9.6},
      {"elapsed": 18.15, "series": "Dew Point", "value": 8.9},
      {"elapsed": 18.21, "series": "Dew Point", "value": 4.8},
      {"elapsed": 18.29, "series": "Dew Point", "value": 1.0},
      {"elapsed": 18.38, "series": "Dew Point", "value": 6.0},
      {"elapsed": 18.46, "series": "Dew Point", "value": 8.6},
      {"elapsed": 18.55, "series": "Dew Point", "value": 3.2},
      {"elapsed": 18.72, "series": "Dew Point", "value": 2.0},
      {"elapsed": 18.81, "series": "Dew Point", "value": 6.0},
      {"elapsed": 18.89, "series": "Dew Point", "value": 7.7},
      {"elapsed": 18.98, "series": "Dew Point", "value": 8.6},
      {"elapsed": 19.03, "series": "Dew Point", "value": 4.6},
      {"elapsed": 19.09, "series": "Dew Point", "value": 1.0},
      {"elapsed": 19.23, "series": "Dew Point", "value": 5.8},
      {"elapsed": 19.35, "series": "Dew Point", "value": 4.1},
      {"elapsed": 19.49, "series": "Dew Point", "value": 6.5},
      {"elapsed": 19.66, "series": "Dew Point", "value": 5.5},
      {"elapsed": 19.75, "series": "Dew Point", "value": 3.4},
      {"elapsed": 19.83, "series": "Dew Point", "value": 5.1},
      {"elapsed": 19.92, "series": "Dew Point", "value": 10.5},
      {"elapsed": 20.0, "series": "Dew Point", "value": 8.6},
      {"elapsed": 20.09, "series": "Dew Point", "value": 4.8},
      {"elapsed": 20.2, "series": "Dew Point", "value": 8.9},
      {"elapsed": 20.31, "series": "Dew Point", "value": 9.1},
      {"elapsed": 20.43, "series": "Dew Point", "value": 12.9},
      {"elapsed": 20.52, "series": "Dew Point", "value": 10.3},
      {"elapsed": 20.57, "series": "Dew Point", "value": 6.3},
      {"elapsed": 20.71, "series": "Dew Point", "value": 9.3},
      {"elapsed": 20.83, "series": "Dew Point", "value": 7.2},
      {"elapsed": 20.91, "series": "Dew Point", "value": 11.0},
      {"elapsed": 21.03, "series": "Dew Point", "value": 10.8},
      {"elapsed": 21.17, "series": "Dew Point", "value": 12.2},
      {"elapsed": 21.31, "series": "Dew Point", "value": 12.4},
      {"elapsed": 21.4, "series": "Dew Point", "value": 16.0},
      {"elapsed": 21.45, "series": "Dew Point", "value": 12.4},
      {"elapsed": 21.51, "series": "Dew Point", "value": 11.0},
      {"elapsed": 21.65, "series": "Dew Point", "value": 11.5},
      {"elapsed": 21.85, "series": "Dew Point", "value": 11.2},
      {"elapsed": 22.08, "series": "Dew Point", "value": 10.5},
      {"elapsed": 22.14, "series": "Dew Point", "value": 13.1},
      {"elapsed": 22.31, "series": "Dew Point", "value": 10.8},
      {"elapsed": 22.45, "series": "Dew Point", "value": 12.2},
      {"elapsed": 22.59, "series": "Dew Point", "value": 12.2},
      {"elapsed": 22.82, "series": "Dew Point", "value": 12.7},
      {"elapsed": 22.96, "series": "Dew Point", "value": 14.3},
      {"elapsed": 23.16, "series": "Dew Point", "value": 13.9},
      {"elapsed": 23.39, "series": "Dew Point", "value": 13.9},
      {"elapsed": 23.64, "series": "Dew Point", "value": 14.5},
      {"elapsed": 23.82, "series": "Dew Point", "value": 13.3},
      {"elapsed": 23.99, "series": "Dew Point", "value": 14.9},
      {"elapsed": 24.21, "series": "Dew Point", "value": 16.2},
      {"elapsed": 24.33, "series": "Dew Point", "value": 14.2},
      {"elapsed": 24.47, "series": "Dew Point", "value": 13.8},
      {"elapsed": 24.64, "series": "Dew Point", "value": 15.4},
      {"elapsed": 24.81, "series": "Dew Point", "value": 15.1},
      {"elapsed": 25.1, "series": "Dew Point", "value": 14.9},
      {"elapsed": 25.32, "series": "Dew Point", "value": 15.4},
      {"elapsed": 25.58, "series": "Dew Point", "value": 15.8},
      {"elapsed": 25.78, "series": "Dew Point", "value": 15.6},
      {"elapsed": 25.95, "series": "Dew Point", "value": 13.8},
      {"elapsed": 26.04, "series": "Dew Point", "value": 15.8},
      {"elapsed": 26.24, "series": "Dew Point", "value": 14.4},
      {"elapsed": 26.41, "series": "Dew Point", "value": 14.7},
      {"elapsed": 26.63, "series": "Dew Point", "value": 14.7},
      {"elapsed": 26.83, "series": "Dew Point", "value": 14.0},
      {"elapsed": 27.06, "series": "Dew Point", "value": 14.2},
      {"elapsed": 27.12, "series": "Dew Point", "value": 12.0},
      {"elapsed": 27.29, "series": "Dew Point", "value": 14.0},
      {"elapsed": 27.43, "series": "Dew Point", "value": 12.2},
      {"elapsed": 27.57, "series": "Dew Point", "value": 13.6},
      {"elapsed": 27.77, "series": "Dew Point", "value": 12.5},
      {"elapsed": 27.94, "series": "Dew Point", "value": 13.4},
      {"elapsed": 28.14, "series": "Dew Point", "value": 14.2},
      {"elapsed": 28.37, "series": "Dew Point", "value": 13.8},
      {"elapsed": 28.57, "series": "Dew Point", "value": 14.7},
      {"elapsed": 28.77, "series": "Dew Point", "value": 16.0},
      {"elapsed": 28.91, "series": "Dew Point", "value": 16.4},
      {"elapsed": 29.05, "series": "Dew Point", "value": 17.8},
      {"elapsed": 29.28, "series": "Dew Point", "value": 18.7},
      {"elapsed": 29.54, "series": "Dew Point", "value": 19.6},
      {"elapsed": 29.62, "series": "Dew Point", "value": 19.8}
    ]
  },
  "mark": {"type": "line", "strokeWidth": 7, "strokeCap": "butt"},
  "encoding": {
    "x": {
      "field": "elapsed",
      "type": "quantitative",
      "title": null,
      "scale": {"domain": [0, 29.62], "nice": false, "zero": false},
      "axis": {
        "values": [0, 2, 4, 6, 8, 10, 12, 14, 16, 18, 20, 22, 24, 26, 28],
        "labelExpr": "datum.value == 0 ? '20:00' : datum.value == 4 ? 'Mar 22' : datum.value == 8 ? '04:00' : datum.value == 12 ? '08:00' : datum.value == 16 ? '12:00' : datum.value == 20 ? '16:00' : datum.value == 24 ? '20:00' : datum.value == 28 ? 'Mar 23' : ''",
        "labelFontSize": 47,
        "labelColor": "#444444",
        "labelPadding": 38,
        "labelOverlap": false,
        "labelFlush": false,
        "ticks": false,
        "domain": false,
        "gridColor": "#f2f2f2",
        "gridWidth": 2
      }
    },
    "y": {
      "field": "value",
      "type": "quantitative",
      "title": "Temperature °F",
      "scale": {"domain": [-20, 60], "nice": false, "zero": false},
      "axis": {
        "values": [60, 52, 50, 44, 40, 36, 30, 28, 20, 12, 10, 4, 0, -4, -10, -12, -20],
        "labelExpr": "datum.value % 20 == 0 ? '' + datum.value : ''",
        "labelFontSize": 47,
        "labelColor": "#444444",
        "labelPadding": 51,
        "labelOverlap": false,
        "ticks": false,
        "domain": false,
        "gridColor": {
          "condition": [
            {"test": "datum.value == 0 || datum.value == -20", "value": "#333333"},
            {"test": "datum.value == 60 || datum.value == 44 || datum.value == 40 || datum.value == 28 || datum.value == 12 || datum.value == -4", "value": "#c8c8c8"}
          ],
          "value": "#ebebeb"
        },
        "gridWidth": {
          "condition": {"test": "datum.value == 0 || datum.value == -20", "value": 3},
          "value": 2
        },
        "titleFontSize": 48,
        "titleFontWeight": "normal",
        "titleColor": "#222222",
        "titleAngle": 270,
        "titleAlign": "center",
        "titleBaseline": "middle",
        "titleX": -197,
        "titleY": 349
      }
    },
    "color": {
      "field": "series",
      "type": "nominal",
      "title": null,
      "scale": {
        "domain": ["Air Temperature", "Humidity", "Dew Point"],
        "range": ["#8b0000", "#0000ee", "#006400"]
      },
      "legend": {
        "orient": "none",
        "legendX": 0,
        "legendY": -96,
        "direction": "horizontal",
        "symbolType": "stroke",
        "symbolSize": 9409,
        "symbolStrokeWidth": 7,
        "labelFontSize": 49,
        "labelColor": "#222222",
        "labelLimit": 1000,
        "labelOffset": 10,
        "columnPadding": 62,
        "padding": 0
      }
    },
    "strokeDash": {
      "field": "series",
      "type": "nominal",
      "title": null,
      "scale": {
        "domain": ["Air Temperature", "Humidity", "Dew Point"],
        "range": [[1, 0], [18, 11], [6, 8]]
      },
      "legend": {
        "orient": "none",
        "legendX": 0,
        "legendY": -96,
        "direction": "horizontal",
        "symbolType": "stroke",
        "symbolSize": 9409,
        "symbolStrokeWidth": 7,
        "labelFontSize": 49,
        "labelColor": "#222222",
        "labelLimit": 1000,
        "labelOffset": 10,
        "columnPadding": 62,
        "padding": 0
      }
    }
  }
}
